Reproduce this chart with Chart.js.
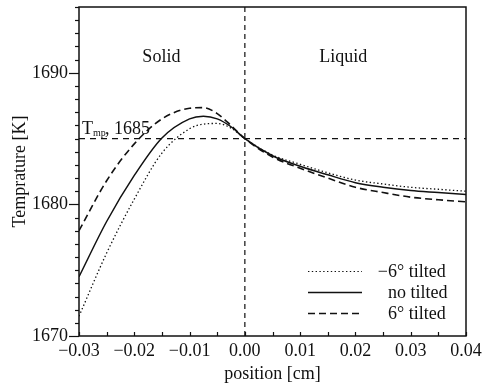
<!DOCTYPE html>
<html>
<head>
<meta charset="utf-8">
<script src="https://cdn.jsdelivr.net/npm/chart.js@4.4.0/dist/chart.umd.min.js"></script>
<style>
  html, body { margin: 0; padding: 0; background: #fff; }
  #wrap { width: 494px; height: 388px; }
</style>
</head>
<body>
<div id="wrap"><canvas id="chart" width="494" height="388"></canvas></div>
<script>
// position [cm]
const positions = [-0.03, -0.025, -0.02, -0.015, -0.01, -0.0075, -0.005, -0.0025, 0,
                   0.005, 0.01, 0.015, 0.02, 0.025, 0.03, 0.035, 0.04];
// temperature [K]
const tiltNeg = [1671.5, 1676.3, 1680.4, 1683.9, 1685.75, 1686.1, 1686.15, 1685.8, 1685.0,
                 1683.75, 1683.05, 1682.4, 1681.85, 1681.55, 1681.3, 1681.15, 1681.0];
const noTilt  = [1674.5, 1678.7, 1682.2, 1685.05, 1686.5, 1686.7, 1686.5, 1685.9, 1685.0,
                 1683.7, 1682.9, 1682.25, 1681.65, 1681.3, 1681.05, 1680.9, 1680.75];
const tiltPos = [1678.0, 1681.8, 1684.6, 1686.5, 1687.3, 1687.35, 1686.9, 1686.0, 1685.0,
                 1683.6, 1682.75, 1682.0, 1681.3, 1680.9, 1680.55, 1680.35, 1680.2];
const seriesNames = ['\u22126\u00b0 tilted', 'no tilted', '6\u00b0 tilted'];

const meltTemp = 1685;
const interfacePos = 0;
const xTicks = [-0.03, -0.02, -0.01, 0, 0.01, 0.02, 0.03, 0.04];
const yTicks = [1670, 1680, 1690];
const xRange = [-0.03, 0.04];
const yRange = [1670, 1695];

const FONT = "'Liberation Serif', 'Times New Roman', serif";
const INK = '#111';

const toXY = arr => arr.map((t, i) => ({ x: positions[i], y: t }));

const styles = [
  { dash: [1.4, 2.4], width: 1.3 },   // -6 tilted (dotted)
  { dash: [], width: 1.5 },           // no tilted (solid)
  { dash: [7, 4], width: 1.6 }        // 6 tilted (dashed)
];

function curve(label, data, st) {
  return {
    label, data: toXY(data),
    borderColor: INK, borderWidth: st.width, borderDash: st.dash,
    pointRadius: 0, cubicInterpolationMode: 'monotone', fill: false
  };
}

const overlay = {
  id: 'overlay',
  afterDraw(chart) {
    const { ctx, chartArea: a, scales: { x, y } } = chart;
    ctx.save();
    // frame
    ctx.strokeStyle = INK;
    ctx.lineWidth = 1.5;
    ctx.setLineDash([]);
    ctx.strokeRect(a.left, a.top, a.right - a.left, a.bottom - a.top);

    // y ticks (outward), every 1 K, long at labelled values
    ctx.lineWidth = 1.2;
    for (let v = yRange[0]; v <= yRange[1]; v++) {
      const py = Math.round(y.getPixelForValue(v)) + 0.5;
      const len = v % 10 === 0 ? 10 : 4;
      ctx.beginPath();
      ctx.moveTo(a.left - len, py);
      ctx.lineTo(a.left, py);
      ctx.stroke();
    }
    // x ticks (inward), every 0.005
    for (let k = 0; k <= 14; k++) {
      const px = Math.round(x.getPixelForValue(xRange[0] + k * 0.005)) + 0.5;
      ctx.beginPath();
      ctx.moveTo(px, a.bottom);
      ctx.lineTo(px, a.bottom - 4);
      ctx.stroke();
    }

    // region labels
    ctx.fillStyle = INK;
    ctx.textBaseline = 'alphabetic';
    ctx.textAlign = 'center';
    ctx.font = '18px ' + FONT;
    ctx.fillText('Solid', x.getPixelForValue(-0.0151), y.getPixelForValue(1690.85));
    ctx.fillText('Liquid', x.getPixelForValue(0.0178), y.getPixelForValue(1690.85));

    // T_mp label
    ctx.textAlign = 'left';
    const bx = a.left + 3, by = y.getPixelForValue(meltTemp) - 5;
    ctx.font = '18px ' + FONT;
    ctx.fillText('T', bx, by);
    ctx.font = '10px ' + FONT;
    ctx.fillText('mp', bx + 11, by + 2);
    ctx.font = '18px ' + FONT;
    ctx.fillText(', 1685', bx + 23, by);

    // legend
    const rows = [271, 292, 313];
    const textX = 388;
    ctx.textBaseline = 'middle';
    rows.forEach((ry, i) => {
      const st = styles[i];
      ctx.lineWidth = i === 0 ? 1 : st.width;
      ctx.setLineDash(st.dash);
      ctx.beginPath();
      ctx.moveTo(308, ry + 0.5);
      ctx.lineTo(362, ry + 0.5);
      ctx.stroke();
      ctx.setLineDash([]);
      let label = seriesNames[i];
      let tx = textX;
      if (label.startsWith('\u2212')) tx -= ctx.measureText('\u2212').width;
      ctx.fillText(label, tx, ry + 1);
    });
    ctx.restore();
  }
};

new Chart(document.getElementById('chart'), {
  type: 'line',
  data: {
    datasets: [
      curve(seriesNames[0], tiltNeg, styles[0]),
      curve(seriesNames[1], noTilt, styles[1]),
      curve(seriesNames[2], tiltPos, styles[2]),
      {
        label: 'Tmp', data: [{ x: xRange[0], y: meltTemp }, { x: xRange[1], y: meltTemp }],
        borderColor: INK, borderWidth: 1.4, borderDash: [6, 5], pointRadius: 0, tension: 0
      },
      {
        label: 'interface', data: [{ x: interfacePos, y: yRange[0] }, { x: interfacePos, y: yRange[1] }],
        borderColor: INK, borderWidth: 1.2, borderDash: [5, 4], pointRadius: 0, tension: 0
      }
    ]
  },
  options: {
    responsive: false,
    animation: false,
    devicePixelRatio: 1,
    layout: { padding: { top: 7, right: 28, left: 0, bottom: 0 } },
    plugins: { legend: { display: false }, tooltip: { enabled: false } },
    scales: {
      x: {
        type: 'linear', min: xRange[0], max: xRange[1],
        afterBuildTicks: s => { s.ticks = xTicks.map(v => ({ value: v })); },
        afterFit: s => { s.height = 52; s.paddingLeft = 0; s.paddingRight = 0; },
        grid: { drawOnChartArea: false, drawTicks: false },
        border: { display: false },
        ticks: {
          color: INK, font: { family: FONT, size: 18 }, padding: 4, maxRotation: 0,
          callback: v => (Math.abs(v) < 1e-9 ? 0 : v).toFixed(2).replace('-', '\u2212')
        },
        title: {
          display: true, text: 'position [cm]', color: INK,
          font: { family: FONT, size: 18 }, padding: { top: 0, bottom: 3 }
        }
      },
      y: {
        type: 'linear', min: yRange[0], max: yRange[1],
        afterBuildTicks: s => { s.ticks = yTicks.map(v => ({ value: v })); },
        afterFit: s => { s.width = 79; s.paddingTop = 0; s.paddingBottom = 0; },
        grid: { drawOnChartArea: false, drawTicks: false },
        border: { display: false },
        ticks: {
          color: INK, font: { family: FONT, size: 18 }, padding: 11,
          callback: v => String(v)
        },
        title: {
          display: true, text: 'Temprature [K]', color: INK,
          font: { family: FONT, size: 18 }, padding: { top: 9, bottom: 0 }
        }
      }
    }
  },
  plugins: [overlay]
});
</script>
</body>
</html>
